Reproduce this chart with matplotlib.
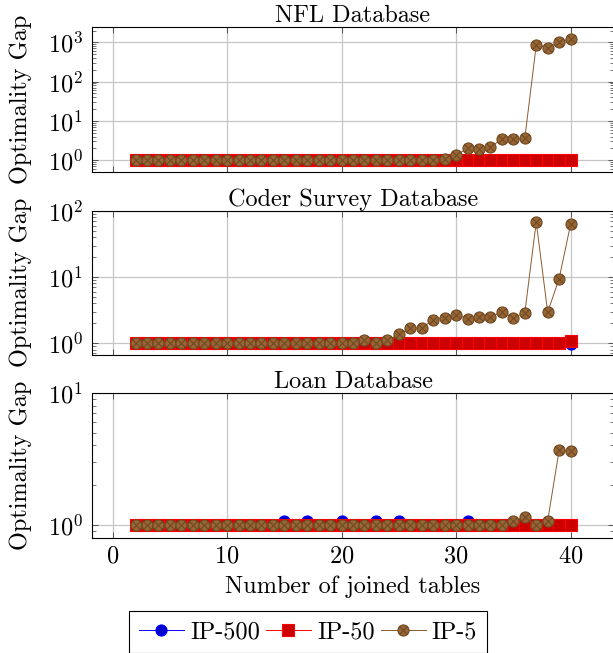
import matplotlib
matplotlib.use('Agg')
import matplotlib.pyplot as plt
from matplotlib.path import Path
from matplotlib.ticker import LogLocator, NullFormatter, FixedLocator, LogFormatterSciNotation

plt.rcParams['font.family'] = ['cmr10']
plt.rcParams['mathtext.fontset'] = 'cm'
plt.rcParams['axes.formatter.use_mathtext'] = True
plt.rcParams['axes.unicode_minus'] = False

# ---------------- data ----------------
joined_tables = [2, 3, 4, 5, 6, 7, 8, 9, 10, 11, 12, 13, 14, 15, 16, 17, 18, 19, 20,
                 21, 22, 23, 24, 25, 26, 27, 28, 29, 30, 31, 32, 33, 34, 35, 36, 37,
                 38, 39, 40]
series_names = ['IP-500', 'IP-50', 'IP-5']
panel_titles = ['NFL Database', 'Coder Survey Database', 'Loan Database']
x_ticks = [0, 10, 20, 30, 40]

nfl_ip500 = [1, 1, 1, 1, 1, 1, 1, 1, 1, 1, 1, 1, 1, 1, 1, 1, 1, 1, 1, 1, 1, 1, 1, 1, 1, 1,
             1, 1, 1, 1, 1, 1, 1, 1, 1, 1, 1, 1, 1]
nfl_ip50 = [1, 1, 1, 1, 1, 1, 1, 1, 1, 1, 1, 1, 1, 1, 1, 1, 1, 1, 1, 1, 1, 1, 1, 1, 1, 1,
            1, 1, 1, 1, 1, 1, 1, 1, 1, 1, 1, 1, 1]
nfl_ip5 = [1, 1, 1, 1, 1, 1, 1, 1, 1, 1, 1, 1, 1, 1, 1, 1, 1, 1, 1, 1, 1, 1, 1, 1, 1, 1,
           1, 1.06, 1.34, 2.02, 1.94, 2.18, 3.45, 3.45, 3.6, 850, 730, 1040, 1190]

coder_ip500 = [1, 1, 1, 1, 1, 1, 1, 1, 1, 1, 1, 1, 1, 1, 1, 1, 1, 1, 1, 1, 1, 1, 1, 1, 1,
               1, 1, 1, 1, 1, 1, 1, 1, 1, 1, 1, 1, 1, 0.98]
coder_ip50 = [1, 1, 1, 1, 1, 1, 1, 1, 1, 1, 1, 1, 1, 1, 1, 1, 1, 1, 1, 1, 1, 1, 1, 1, 1,
              1, 1, 1, 1, 1, 1, 1, 1, 1, 1, 1, 1, 1, 1.07]
coder_ip5 = [1, 1, 1, 1, 1, 1, 1, 1, 1, 1, 1, 1, 1, 1, 1, 1, 1, 1, 1, 1, 1.12, 1.0, 1.1,
             1.36, 1.67, 1.71, 2.25, 2.44, 2.68, 2.36, 2.53, 2.47, 3.0, 2.41, 2.87, 68,
             2.94, 9.5, 63]

loan_ip500 = [1, 1, 1, 1, 1, 1, 1, 1, 1, 1, 1, 1, 1, 1.07, 1, 1.07, 1, 1, 1.07, 1, 1,
              1.07, 1, 1.07, 1, 1, 1, 1, 1, 1.07, 1, 1, 1, 1, 1, 1, 1, 1, 1]
loan_ip50 = [1, 1, 1, 1, 1, 1, 1, 1, 1, 1, 1, 1, 1, 1, 1, 1, 1, 1, 1, 1, 1, 1, 1, 1, 1,
             1, 1, 1, 1, 1, 1, 1, 1, 1, 1, 1, 1, 1, 1]
loan_ip5 = [1, 1, 1, 1, 1, 1, 1, 1, 1, 1, 1, 1, 1, 1, 1, 1, 1, 1, 1, 1, 1, 1, 1, 1, 1,
            1, 1, 1, 1, 1, 1, 1, 1, 1.08, 1.15, 1.0, 1.08, 3.69, 3.62]

panels = [
    (nfl_ip500, nfl_ip50, nfl_ip5),
    (coder_ip500, coder_ip50, coder_ip5),
    (loan_ip500, loan_ip50, loan_ip5),
]
y_limits = [(10 ** -0.3076, 10 ** 3.383), (10 ** -0.175, 100), (0.8, 10)]

# ---------------- style ----------------
FS = 17.5
c = 0.7071
otimes = Path.make_compound_path(
    Path.unit_circle(),
    Path([(-c, -c), (c, c), (-c, c), (c, -c)],
         [Path.MOVETO, Path.LINETO, Path.MOVETO, Path.LINETO]))

styles = [
    dict(color='#0000ff', marker='o', markerfacecolor='#0000cc', markeredgecolor='#0000ff'),
    dict(color='#ff0000', marker='s', markerfacecolor='#cc0000', markeredgecolor='#ff0000'),
    dict(color='#8a5a2e', marker=otimes, markerfacecolor='#996633', markeredgecolor='#6e4a26'),
]

W, H = 613, 653
fig = plt.figure(figsize=(W / 100, H / 100), dpi=100)

left_px, right_px = 92, 614.1
boxes = [(27.3, 172.3), (211, 354.7), (392.7, 538)]

axes = []
for i, (top, bot) in enumerate(boxes):
    ax = fig.add_axes([left_px / W, 1 - bot / H, (right_px - left_px) / W, (bot - top) / H])
    axes.append(ax)
    ax.set_yscale('log')
    handles = []
    for vals, st, name in zip(panels[i], styles, series_names):
        h, = ax.plot(joined_tables, vals, lw=0.7, markersize=8, markeredgewidth=0.8,
                     label=name, **st)
        handles.append(h)
    ax.set_xlim(-1.8, 43.8)
    ax.set_ylim(*y_limits[i])
    ax.xaxis.set_major_locator(FixedLocator(x_ticks))
    ax.yaxis.set_major_locator(LogLocator(base=10, numticks=10))
    ax.yaxis.set_minor_locator(LogLocator(base=10, subs=[2, 3, 4, 5, 6, 7, 8, 9], numticks=20))
    ax.yaxis.set_major_formatter(LogFormatterSciNotation())
    ax.yaxis.set_minor_formatter(NullFormatter())
    ax.grid(True, which='major', color='#c6c6c6', lw=0.9)
    ax.set_axisbelow(True)
    ax.tick_params(which='both', direction='in', top=True, right=True, color='#404040',
                   labelsize=FS)
    ax.tick_params(which='major', length=4.5, width=0.6)
    ax.tick_params(which='minor', length=3, width=0.5)
    ax.tick_params(axis='y', which='major', pad=6.5)
    ax.tick_params(axis='x', which='major', pad=5)
    for sp in ax.spines.values():
        sp.set_linewidth(0.8)
        sp.set_color('black')
    ax.set_title(panel_titles[i], fontsize=FS, pad=3.5)
    ax.set_ylabel('Optimality Gap', fontsize=FS)
    ax.yaxis.set_label_coords(-0.115, 0.5)
    if i < 2:
        ax.tick_params(axis='x', labelbottom=False)

axes[2].set_xlabel('Number of joined tables', fontsize=FS)
axes[2].xaxis.set_label_coords(0.5, -0.255)

leg = fig.legend(handles, series_names, loc='center', bbox_to_anchor=(0.5025, 0.032),
                 ncol=3, fontsize=FS, frameon=True, fancybox=False, framealpha=1,
                 edgecolor='black', handlelength=1.85, handletextpad=0.25,
                 columnspacing=0.25, borderpad=0.4)
leg.get_frame().set_linewidth(0.8)

fig.savefig('out.png', dpi=100)
